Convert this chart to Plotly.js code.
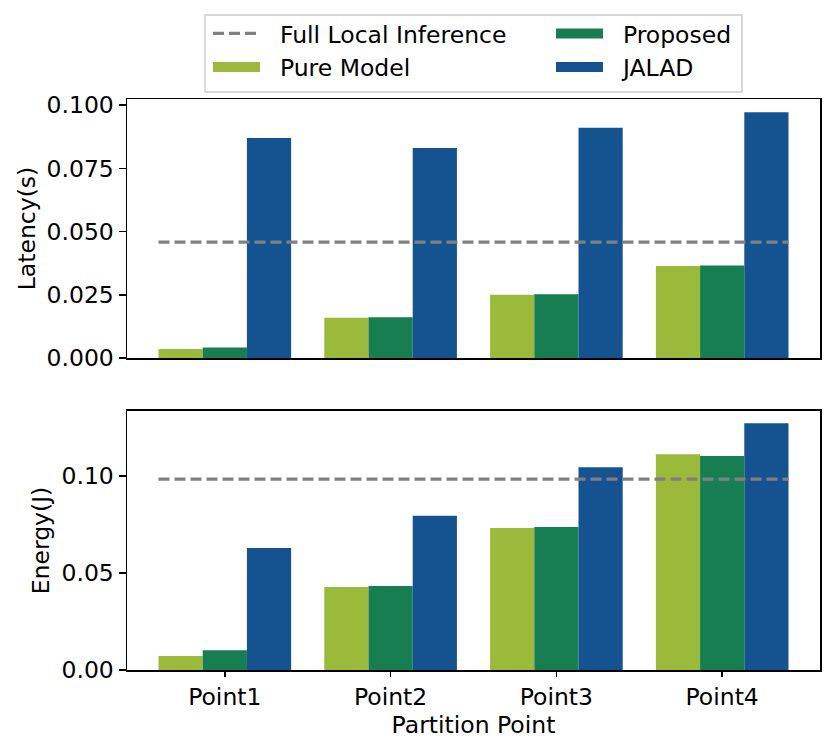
<!DOCTYPE html>
<html>
<head>
<meta charset="utf-8">
<script src="https://cdn.plot.ly/plotly-3.0.1.min.js"></script>
<style>
  body { margin: 0; background: #fff; }
  #graph { width: 831px; height: 753px; }
</style>
</head>
<body>
<div id="graph"></div>
<script>
// data
const points = ["Point1", "Point2", "Point3", "Point4"];
const pointPos = [0, 1, 2, 3];

const latencyPure = [0.0036, 0.0159, 0.0250, 0.0364];
const latencyProposed = [0.0042, 0.0161, 0.0252, 0.0366];
const latencyJalad = [0.0870, 0.0830, 0.0910, 0.0972];
const latencyLocal = 0.0458;

const energyPure = [0.0072, 0.0428, 0.0732, 0.1113];
const energyProposed = [0.0102, 0.0433, 0.0737, 0.1104];
const energyJalad = [0.0629, 0.0795, 0.1046, 0.1273];
const energyLocal = 0.0985;

// the dashed line runs over the bar groups only
const lineSpan = [-0.4, 3.4];

const pureColor = "#9bba3c";
const proposedColor = "#167e51";
const jaladColor = "#155390";
const localColor = "#808080";

// a little room between legend symbol and label, as in the original
const pad = "\u00a0\u00a0";

function barTrace(y, color, xa, ya) {
    return {
        type: "bar", x: pointPos, y: y,
        xaxis: xa, yaxis: ya,
        marker: {color: color, line: {width: 0}},
        showlegend: false, hoverinfo: "y"
    };
}

function localTrace(value, xa, ya, show) {
    return {
        type: "scatter", mode: "lines",
        x: lineSpan, y: lineSpan.map(() => value),
        xaxis: xa, yaxis: ya,
        line: {color: localColor, width: 3.3, dash: "11px,5px"},
        name: pad + "Full Local Inference",
        showlegend: show, legend: "legend"
    };
}

// legend proxies so bars show as wide patches like the original
function legendPatch(name, color, legendId) {
    return {
        type: "scatter", mode: "lines", x: [null], y: [null],
        line: {color: color, width: 17},
        name: pad + name, legend: legendId, showlegend: true
    };
}

let data = [
    barTrace(latencyPure, pureColor, "x", "y"),
    barTrace(latencyProposed, proposedColor, "x", "y"),
    barTrace(latencyJalad, jaladColor, "x", "y"),
    barTrace(energyPure, pureColor, "x2", "y2"),
    barTrace(energyProposed, proposedColor, "x2", "y2"),
    barTrace(energyJalad, jaladColor, "x2", "y2"),
    localTrace(latencyLocal, "x", "y", true),
    localTrace(energyLocal, "x2", "y2", false),
    legendPatch("Pure Model", pureColor, "legend"),
    legendPatch("Proposed", proposedColor, "legend2"),
    legendPatch("JALAD", jaladColor, "legend2")
];

const fontFamily = "DejaVu Sans, sans-serif";
const fontSize = 23.5;
const axisCommon = {
    showline: true, mirror: true, linecolor: "black", linewidth: 1.5,
    showgrid: false, zeroline: false,
    ticks: "outside", ticklen: 7, tickwidth: 1.5, tickcolor: "black",
    tickfont: {family: fontFamily, size: fontSize, color: "black"}
};

const legendCommon = {
    orientation: "v", xanchor: "left", y: 1.153, yanchor: "top",
    bgcolor: "rgba(0,0,0,0)", borderwidth: 0,
    font: {family: fontFamily, size: fontSize, color: "black"},
    itemwidth: 47, tracegroupgap: 0
};

let layout = {
    width: 831, height: 753,
    margin: {l: 127, r: 11, t: 99, b: 83, pad: 0},
    paper_bgcolor: "white", plot_bgcolor: "white",
    font: {family: fontFamily, size: fontSize, color: "black"},
    barmode: "group", bargap: 0.2, bargroupgap: 0,
    xaxis: Object.assign({}, axisCommon, {
        domain: [0, 1], anchor: "y", range: [-0.59, 3.59],
        tickvals: pointPos, ticktext: points,
        showticklabels: false, ticks: ""
    }),
    yaxis: Object.assign({}, axisCommon, {
        domain: [0.5464, 1], anchor: "x", range: [0, 0.1024],
        dtick: 0.025, tickformat: ".3f",
        title: {text: "Latency(s)", standoff: 4, font: {family: fontFamily, size: fontSize}}
    }),
    xaxis2: Object.assign({}, axisCommon, {
        domain: [0, 1], anchor: "y2", range: [-0.59, 3.59],
        tickvals: pointPos, ticktext: points, ticklen: 5,
        title: {text: "Partition Point", standoff: 7, font: {family: fontFamily, size: fontSize}}
    }),
    yaxis2: Object.assign({}, axisCommon, {
        domain: [0, 0.4536], anchor: "x2", range: [0, 0.1336],
        dtick: 0.05, tickformat: ".2f",
        title: {text: "Energy(J)", standoff: 5, font: {family: fontFamily, size: fontSize}}
    }),
    legend: Object.assign({}, legendCommon, {x: 0.1169}),
    legend2: Object.assign({}, legendCommon, {x: 0.6118}),
    // frame drawn around the two legend columns
    shapes: [{
        type: "rect", xref: "paper", yref: "paper",
        x0: 0.1126, x1: 0.8874, y0: 1.0123, y1: 1.1471,
        line: {color: "#cccccc", width: 1.5}, fillcolor: "white", layer: "above"
    }]
};

Plotly.newPlot("graph", data, layout, {displayModeBar: false, staticPlot: true});
</script>
</body>
</html>
